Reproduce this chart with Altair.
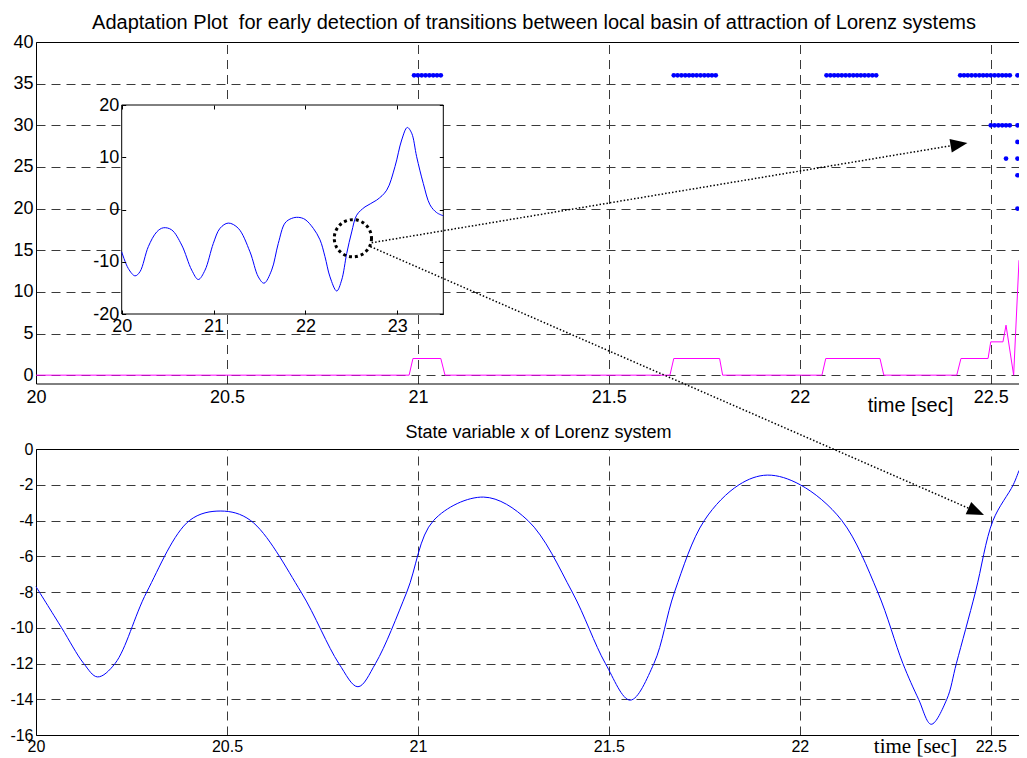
import altair as alt
import pandas as pd

# ---------------- text ----------------
TITLE = "Adaptation Plot \u00a0for early detection of transitions between local basin of attraction of Lorenz systems"
SUBTITLE = "State variable x of Lorenz system"
X_LABEL = "time [sec]"

# ---------------- data ----------------
# top panel: detection markers (blue dots)
row36_time = [20.99, 21.00, 21.01, 21.02, 21.03, 21.04, 21.05, 21.06,
              21.67, 21.68, 21.69, 21.70, 21.71, 21.72, 21.73, 21.74, 21.75, 21.76, 21.77, 21.78,
              22.07, 22.08, 22.09, 22.10, 22.11, 22.12, 22.13, 22.14, 22.15, 22.16, 22.17, 22.18, 22.19, 22.20,
              22.42, 22.43, 22.44, 22.45, 22.46, 22.47, 22.48, 22.49, 22.50, 22.51, 22.52, 22.53, 22.54, 22.55, 22.57]
row30_time = [22.50, 22.51, 22.52, 22.53, 22.54, 22.55, 22.57]
extra_time = [22.57, 22.54, 22.57, 22.57, 22.57]
extra_level = [28, 26, 26, 24, 20]

# top panel: adaptation level (magenta)
adapt_time = [20.0, 20.977, 20.987, 21.06, 21.071, 21.660, 21.670, 21.790, 21.798,
              22.058, 22.068, 22.210, 22.220, 22.411, 22.422, 22.493, 22.500, 22.532,
              22.540, 22.560, 22.574]
adapt_level = [0, 0, 2, 2, 0, 0, 2, 2, 0, 0, 2, 2, 0, 0, 2, 2, 4, 4, 6, 0, 13.8]

# inset: state x over 20 .. 23.5 s
inset_time = [20.0, 20.072, 20.145, 20.199, 20.29, 20.381, 20.453, 20.544, 20.653, 20.762,
              20.834, 20.907, 20.997, 21.07, 21.16, 21.269, 21.396, 21.487, 21.549, 21.632,
              21.704, 21.777, 21.85, 21.922, 21.995, 22.085, 22.158, 22.212, 22.267, 22.34,
              22.394, 22.449, 22.503, 22.557, 22.648, 22.775, 22.884, 22.974, 23.047, 23.108,
              23.156, 23.21, 23.282, 23.355, 23.428, 23.5]
inset_x = [-8.1, -11.3, -12.7, -11.9, -7.1, -4.3, -3.5, -3.9, -6.8, -11.6,
           -13.4, -11.6, -6.5, -3.6, -2.6, -3.6, -8.1, -12.9, -14.1, -11.6,
           -6.5, -2.6, -1.7, -1.5, -1.9, -3.6, -5.8, -9.0, -12.9, -15.6,
           -13.5, -8.4, -4.3, -1.1, 0.5, 1.8, 3.7, 8.2, 13.3, 15.7,
           14.6, 10.1, 5.0, 0.9, -0.6, -1.2]

# bottom panel: state variable x
state_time = [20.0, 20.067, 20.125, 20.161, 20.207, 20.290, 20.402, 20.484, 20.562, 20.694,
              20.793, 20.843, 20.889, 20.971, 21.041, 21.172, 21.288, 21.404, 21.491, 21.556,
              21.618, 21.672, 21.750, 21.841, 21.915, 22.001, 22.110, 22.204, 22.270, 22.311,
              22.344, 22.385, 22.410, 22.460, 22.506, 22.559, 22.574]
state_x = [-7.7, -10.0, -12.0, -12.75, -12.0, -8.0, -4.0, -3.47, -4.0, -8.0,
           -12.0, -13.3, -12.0, -8.0, -4.0, -2.69, -4.0, -8.0, -12.0, -14.05,
           -12.0, -8.0, -4.0, -2.0, -1.46, -2.0, -4.0, -8.0, -12.0, -14.0,
           -15.4, -14.0, -12.0, -8.0, -4.0, -2.0, -1.2]

# axes
x_domain = [20, 22.574]
top_y_domain = [-1, 40]
bottom_y_domain = [-16, 0]
inset_t_domain = [20, 23.5]
inset_x_domain = [-20, 20]
x_ticks = [20, 20.5, 21, 21.5, 22, 22.5]
top_y_ticks = [0, 5, 10, 15, 20, 25, 30, 35, 40]
bottom_y_ticks = [-16, -14, -12, -10, -8, -6, -4, -2, 0]
inset_x_ticks = [20, 21, 22, 23]
inset_y_ticks = [-20, -10, 0, 10, 20]

# annotations: zoom circle (inset coords) and the two arrows
circle_t, circle_x = [22.516], [-5.5]
arrow_up = {"t0": [20.879], "v0": [15.90], "t1": [22.417], "v1": [27.71]}
arrow_down = {"t0": [20.876], "v0": [11.32], "t1": [22.462], "v1": [-3.50]}

# ---------------- tables ----------------
dots = pd.DataFrame({
    "t": row36_time + row30_time + extra_time,
    "v": [36] * len(row36_time) + [30] * len(row30_time) + extra_level,
})
adapt = pd.DataFrame({"t": adapt_time, "v": adapt_level})
inset = pd.DataFrame({"t": inset_time, "x": inset_x})
state = pd.DataFrame({"t": state_time, "x": state_x})
box = pd.DataFrame({"t0": [inset_t_domain[0]], "t1": [inset_t_domain[1]],
                    "x0": [inset_x_domain[0]], "x1": [inset_x_domain[1]]})
circ = pd.DataFrame({"t": circle_t, "x": circle_x})
a_up = pd.DataFrame(arrow_up)
a_dn = pd.DataFrame(arrow_down)

# ---------------- layout / style ----------------
W, H = 983, 693
TOP_H = 341.5
BOT_Y0 = 407
FONT = "Liberation Sans"
SERIF = "Liberation Serif"
BLUE = "#0000ff"
MAGENTA = "#ff00ff"
GRID = dict(grid=True, gridColor="#3a3a3a", gridDash=[9, 6], gridWidth=1)
NEG = "datum.value < 0 ? '-' + abs(datum.value) : '' + datum.value"
ARROW = "M1,0L-1,-0.8L-1,0.8Z"

x_main = alt.Scale(domain=x_domain, range=[0, W], nice=False, zero=False)
y_top = alt.Scale(domain=top_y_domain, range=[TOP_H, 0], nice=False, zero=False)
y_bot = alt.Scale(domain=bottom_y_domain, range=[H, BOT_Y0], nice=False, zero=False)
x_in = alt.Scale(domain=inset_t_domain, range=[85.7, 407.3], nice=False, zero=False)
y_in = alt.Scale(domain=inset_x_domain, range=[272, 63], nice=False, zero=False)

ax_top_grid = alt.Axis(orient="top", offset=0, values=x_ticks, labels=False, ticks=False,
                       tickSize=0, domainColor="black", title=TITLE, titleFont=FONT,
                       titleFontSize=20, titleFontWeight="normal", titleX=497.5, titleY=-20,
                       titleAlign="center", titleBaseline="middle", **GRID)
ax_top_y = alt.Axis(orient="left", offset=0, values=top_y_ticks, ticks=False, tickSize=0,
                    labelPadding=3, labelFontSize=18, domainColor="black", title=None, **GRID)
ax_top_x = alt.Axis(orient="bottom", offset=TOP_H - H, values=x_ticks, format="~g", grid=False,
                    ticks=False, tickSize=0, labelPadding=5, labelFontSize=18, domainColor="black",
                    title=X_LABEL, titleFont=FONT, titleFontSize=20, titleFontWeight="normal",
                    titleX=874, titleY=22, titleAlign="center", titleBaseline="middle")
ax_bot_grid = alt.Axis(orient="top", offset=-BOT_Y0, values=x_ticks, labels=False, ticks=False,
                       tickSize=0, domainColor="black", title=SUBTITLE, titleFont=FONT,
                       titleFontSize=18, titleFontWeight="normal", titleX=502, titleY=-17,
                       titleAlign="center", titleBaseline="middle", **GRID)
ax_bot_y = alt.Axis(orient="left", offset=0, values=bottom_y_ticks, labelExpr=NEG, ticks=False,
                    tickSize=0, labelPadding=3, labelFontSize=16, domainColor="black",
                    title=None, **GRID)
ax_bot_x = alt.Axis(orient="bottom", offset=0, values=x_ticks, format="~g", grid=False,
                    ticks=False, tickSize=0, labelPadding=3, labelFontSize=16, domainColor="black",
                    title=X_LABEL, titleFont=SERIF, titleFontSize=21, titleFontWeight="normal",
                    titleX=879, titleY=17, titleAlign="center", titleBaseline="alphabetic")
ax_in_x = alt.Axis(orient="bottom", offset=268 - H, values=inset_x_ticks, format="~g", grid=False,
                   domain=False, ticks=True, tickSize=4, tickColor="black", labelPadding=3,
                   labelFontSize=18, title=None, zindex=1)
ax_in_y = alt.Axis(orient="left", offset=-89.7, values=inset_y_ticks, labelExpr=NEG, grid=False,
                   domain=False, ticks=True, tickSize=4, tickColor="black", labelPadding=3,
                   labelFontSize=18, title=None, zindex=1)
ax_in_top = alt.Axis(orient="top", offset=-67, values=inset_x_ticks, labels=False, grid=False,
                     domain=False, ticks=True, tickSize=4, tickColor="black", title=None, zindex=1)
ax_in_right = alt.Axis(orient="right", offset=403.3 - W, values=inset_y_ticks, labels=False,
                       grid=False, domain=False, ticks=True, tickSize=4, tickColor="black",
                       title=None, zindex=1)

# ---------------- inset ----------------
inset_box = alt.Chart(box).mark_rect(fill="white", stroke="black", strokeWidth=1).encode(
    x=alt.X("t0:Q", scale=x_in, axis=ax_in_x), x2="t1:Q",
    y=alt.Y("x0:Q", scale=y_in, axis=ax_in_y), y2="x1:Q")
inset_line = alt.Chart(inset).mark_line(color=BLUE, strokeWidth=1, interpolate="catmull-rom").encode(
    x=alt.X("t:Q", scale=x_in, axis=ax_in_x),
    y=alt.Y("x:Q", scale=y_in, axis=ax_in_y))
L_inset = alt.layer(inset_box, inset_line)

L_circle = alt.Chart(circ).mark_point(shape="circle", size=1385, filled=False, color="black",
                                      strokeWidth=3, strokeDash=[3, 3], opacity=1).encode(
    x=alt.X("t:Q", scale=x_in, axis=ax_in_top),
    y=alt.Y("x:Q", scale=y_in, axis=ax_in_right))

# ---------------- top panel ----------------
adapt_line = alt.Chart(adapt).mark_line(color=MAGENTA, strokeWidth=1).encode(
    x=alt.X("t:Q", scale=x_main, axis=ax_top_grid),
    y=alt.Y("v:Q", scale=y_top, axis=ax_top_y))
up_rule = alt.Chart(a_up).mark_rule(color="black", strokeWidth=1.5, strokeDash=[1.5, 2]).encode(
    x=alt.X("t0:Q", scale=x_main, axis=ax_top_grid), x2="t1:Q",
    y=alt.Y("v0:Q", scale=y_top, axis=ax_top_y), y2="v1:Q")
up_head = alt.Chart(a_up).mark_point(shape=ARROW, size=289, filled=True, color="black",
                                     opacity=1, angle=350.5).encode(
    x=alt.X("t1:Q", scale=x_main, axis=ax_top_grid),
    y=alt.Y("v1:Q", scale=y_top, axis=ax_top_y))
L_top = alt.layer(adapt_line, up_rule, up_head)

L_dots = alt.Chart(dots).mark_circle(color=BLUE, size=22, opacity=1).encode(
    x=alt.X("t:Q", scale=x_main, axis=ax_top_x),
    y=alt.Y("v:Q", scale=y_top, axis=None))

# ---------------- bottom panel ----------------
L_state = alt.Chart(state).mark_line(color=BLUE, strokeWidth=1, interpolate="catmull-rom").encode(
    x=alt.X("t:Q", scale=x_main, axis=ax_bot_grid),
    y=alt.Y("x:Q", scale=y_bot, axis=ax_bot_y))

dn_rule = alt.Chart(a_dn).mark_rule(color="black", strokeWidth=1.5, strokeDash=[1.5, 2]).encode(
    x=alt.X("t0:Q", scale=x_main, axis=ax_bot_x), x2="t1:Q",
    y=alt.Y("v0:Q", scale=y_bot, axis=None), y2="v1:Q")
dn_head = alt.Chart(a_dn).mark_point(shape=ARROW, size=289, filled=True, color="black",
                                     opacity=1, angle=23.7).encode(
    x=alt.X("t1:Q", scale=x_main, axis=ax_bot_x),
    y=alt.Y("v1:Q", scale=y_bot, axis=None))
L_arrow_dn = alt.layer(dn_rule, dn_head)

chart = alt.layer(L_inset, L_circle, L_top, L_dots, L_state, L_arrow_dn).resolve_scale(
    x="independent", y="independent"
).properties(
    width=W, height=H,
    autosize=alt.AutoSizeParams(type="none"),
    padding={"left": 28, "top": 34, "right": 0, "bottom": 23},
).configure_view(stroke=None).configure_axis(
    labelFont=FONT, labelColor="black", titleColor="black", labelOverlap=False, labelFlush=False
)

chart.save("out.html", embed_options={"renderer": "svg", "actions": False})
